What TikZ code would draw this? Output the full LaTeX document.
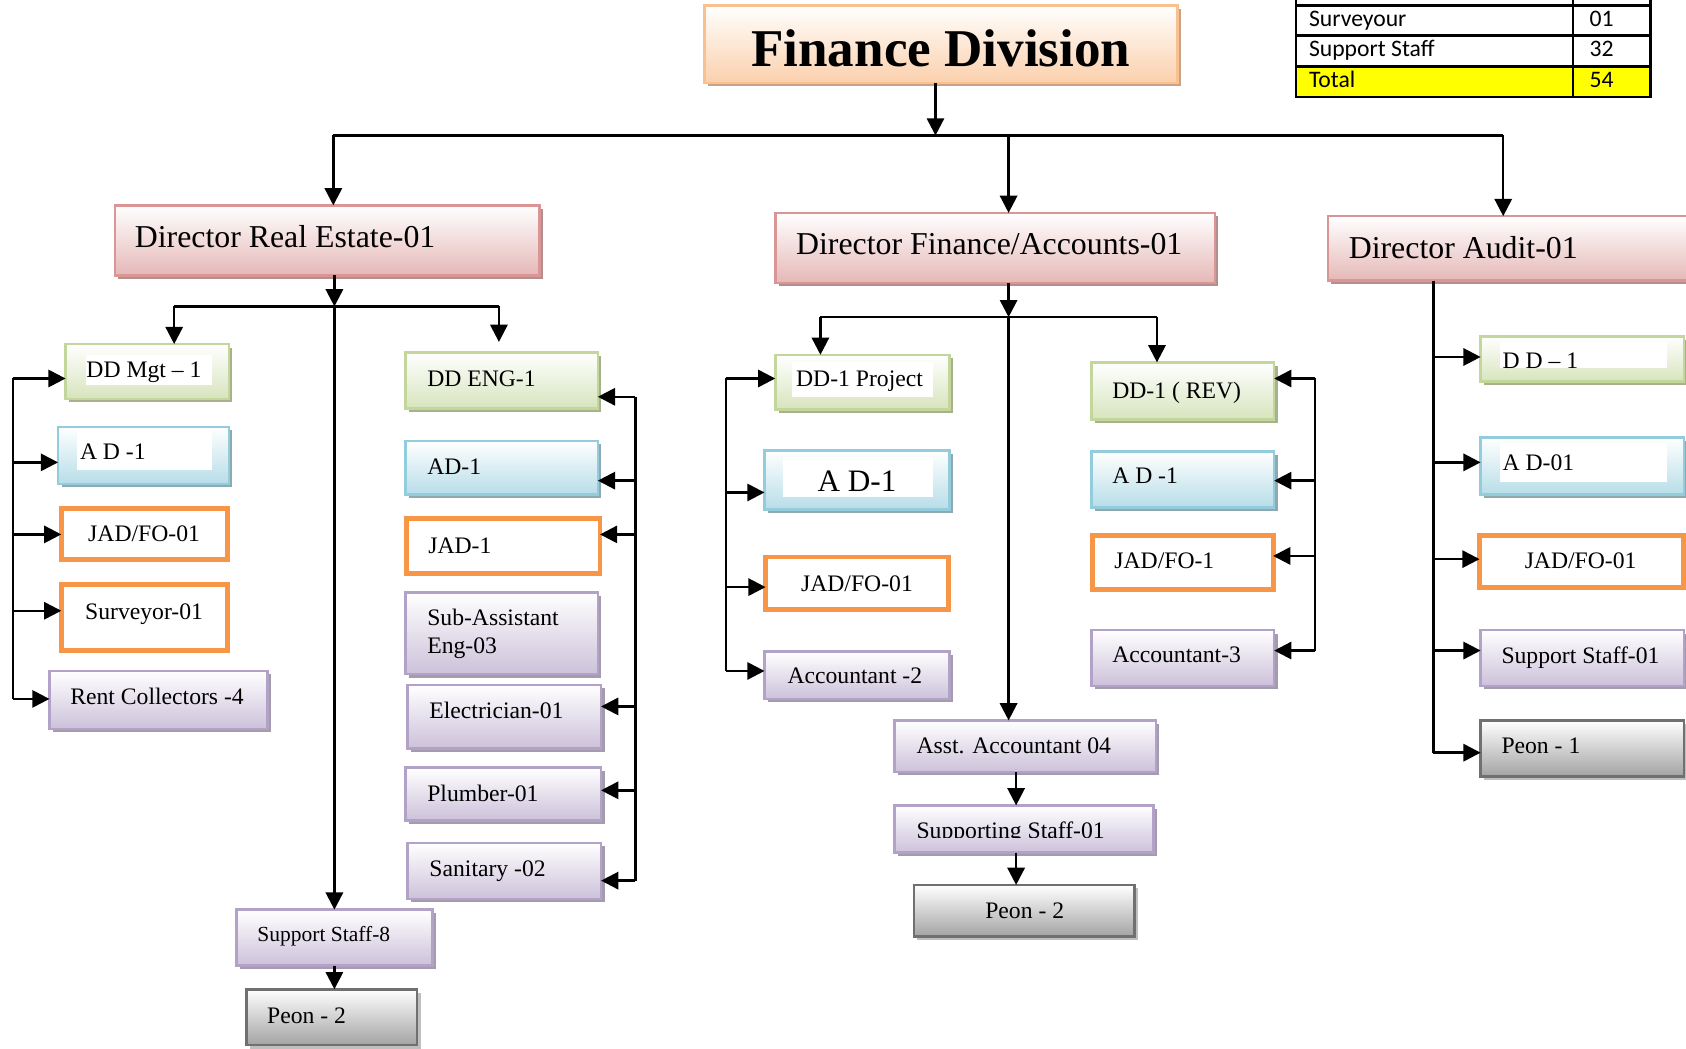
\documentclass[tikz,border=0pt]{standalone}
\usepackage{fontspec}
\setmainfont{Liberation Serif}
\newfontfamily\calibri{Carlito}
\usetikzlibrary{arrows.meta,shadows}

\definecolor{peachB}{HTML}{F9C090}
\definecolor{peachF}{HTML}{FBD0AC}
\definecolor{peachS}{HTML}{C9A287}
\definecolor{pinkB}{HTML}{D99694}
\definecolor{pinkF}{HTML}{E5B8B7}
\definecolor{pinkS}{HTML}{B48E8E}
\definecolor{greenB}{HTML}{C3D69B}
\definecolor{greenF}{HTML}{D7E4BD}
\definecolor{greenS}{HTML}{A7B28C}
\definecolor{blueB}{HTML}{93CDDD}
\definecolor{blueF}{HTML}{B7DDE8}
\definecolor{blueS}{HTML}{8FA9B1}
\definecolor{purpB}{HTML}{B3A2C7}
\definecolor{purpF}{HTML}{CCC1DA}
\definecolor{purpS}{HTML}{A49CAD}
\definecolor{grayB}{HTML}{707070}
\definecolor{grayF}{HTML}{A3A3A3}
\definecolor{grayS}{HTML}{BFBFBF}
\definecolor{orangeB}{HTML}{F79646}
\definecolor{tabYellow}{HTML}{FFFF00}

% box from its top-left (x1,y1) to bottom-right (x2,y2) corner
\newcommand\mkbox[6]{%
  \node[#2, minimum width={(#5-(#3))*0.5pt}, minimum height={(#6-(#4))*0.5pt}] (#1) at (#3,#4) {};}

\begin{document}
\begin{tikzpicture}[x=0.5pt,y=-0.5pt,
  box/.style={rectangle, inner sep=0pt, outer sep=0pt, anchor=north west, line width=1.2pt},
  shadowed/.style={drop shadow={shadow xshift=1.6pt, shadow yshift=-1.6pt, fill=#1, opacity=1}},
  peachbox/.style={box, draw=peachB, top color=white, bottom color=peachF, shadowed=peachS},
  pinkbox/.style={box, draw=pinkB, top color=white, bottom color=pinkF, shadowed=pinkS},
  greenbox/.style={box, draw=greenB, top color=white, bottom color=greenF, shadowed=greenS},
  bluebox/.style={box, draw=blueB, top color=white, bottom color=blueF, shadowed=blueS},
  purpbox/.style={box, draw=purpB, top color=white, bottom color=purpF, shadowed=purpS},
  graybox/.style={box, draw=grayB, top color=white, bottom color=grayF, shadowed=grayS},
  orbox/.style={box, draw=orangeB, line width=2.3pt, fill=white},
  t/.style={inner sep=0pt, anchor=base west, font=\fontsize{11}{13}\selectfont},
  tc/.style={t, anchor=base},
  tsmall/.style={t, font=\fontsize{10}{12}\selectfont},
  tdir/.style={t, font=\fontsize{14.8}{17}\selectfont},
  tbig/.style={tc, font=\fontsize{14.5}{17}\selectfont},
  ttab/.style={inner sep=0pt, anchor=base west, font=\calibri\fontsize{11}{13}\selectfont},
  conn/.style={line width=1.15pt, draw=black},
  arr/.style={conn, -{Triangle[length=8pt,width=8pt]}},
]
\useasboundingbox (0,0) rectangle (1568,975);
\clip (0,0) rectangle (1568,975);
\fill[white] (0,0) rectangle (1568,975);

% ---------- head ----------
\mkbox{fd}{peachbox}{655}{5}{1095}{77}
\node[tc, font=\fontsize{24.7}{30}\selectfont\bfseries] (t-fd) at (875,62) {Finance Division};

% ---------- staff table ----------
\fill[tabYellow] (1205,62) rectangle (1535,90);
\draw[line width=1.1pt] (1205,0) -- (1205,90) -- (1535,90) -- (1535,0);
\draw[line width=1.1pt] (1463,0) -- (1463,90);
\draw[line width=1.1pt] (1205,5) -- (1535,5);
\draw[line width=1.1pt] (1205,33) -- (1535,33);
\draw[line width=1.1pt] (1205,62) -- (1535,62);
\node[ttab] (tb1a) at (1217,25) {Surveyour};
\node[ttab] (tb1b) at (1478,25) {01};
\node[ttab] (tb2a) at (1217,53) {Support Staff};
\node[ttab] (tb2b) at (1478,53) {32};
\node[ttab] (tb3a) at (1217,81) {Total};
\node[ttab] (tb3b) at (1478,81) {54};

% ---------- directors ----------
\mkbox{dre}{pinkbox}{107}{191}{502}{256}
\node[tdir] (t-dre) at (125,230) {Director Real Estate-01};
\mkbox{dfa}{pinkbox}{721}{198}{1130}{263}
\node[tdir] (t-dfa) at (740,237) {Director Finance/Accounts-01};
\mkbox{dau}{pinkbox}{1235}{201}{1590}{261}
\node[tdir] (t-dau) at (1254,240) {Director Audit-01};

% ---------- real estate ----------
\mkbox{mgt}{greenbox}{61}{320}{213}{371}
\fill[white] (80,330) rectangle (197,358);
\node[t] (t-mgt) at (80,351) {DD Mgt – 1};
\mkbox{adL}{bluebox}{54}{397}{213}{450}
\fill[white] (72,400) rectangle (197,437);
\node[t] (t-adL) at (74,427) {A D -1};
\mkbox{jadL}{orbox}{57}{473}{212}{520}
\node[tc] (t-jadL) at (134,504) {JAD/FO-01};
\mkbox{surv}{orbox}{57}{544}{212}{605}
\node[tc] (t-surv) at (134,576) {Surveyor-01};
\mkbox{rent}{purpbox}{46}{624}{249}{678}
\node[t] (t-rent) at (65,655) {Rent Collectors -4};

\mkbox{eng}{greenbox}{377}{328}{556}{380}
\node[t] (t-eng) at (397,359) {DD ENG-1};
\mkbox{adE}{bluebox}{377}{410}{556}{460}
\node[t] (t-adE) at (397,441) {AD-1};
\mkbox{jadE}{orbox}{378}{482}{558}{533}
\node[t] (t-jadE) at (398,515) {JAD-1};
\mkbox{sub}{purpbox}{377}{551}{556}{627}
\node[t] (t-sub1) at (397,582) {Sub-Assistant};
\node[t] (t-sub2) at (397,608) {Eng-03};
\mkbox{elec}{purpbox}{379}{637}{559}{696}
\node[t] (t-elec) at (399,668) {Electrician-01};
\mkbox{plum}{purpbox}{377}{714}{559}{763}
\node[t] (t-plum) at (397,745) {Plumber-01};
\mkbox{san}{purpbox}{379}{784}{559}{836}
\node[t] (t-san) at (399,815) {Sanitary -02};

\mkbox{ss8}{purpbox}{220}{846}{402}{898}
\node[tsmall] (t-ss8) at (239,876) {Support Staff-8};
\mkbox{peonA}{graybox}{229}{920}{388}{972}
\node[t] (t-peonA) at (248,952) {Peon - 2};

% ---------- finance / accounts ----------
\mkbox{proj}{greenbox}{721}{330}{883}{381}
\fill[white] (737,337) rectangle (868,369);
\node[t] (t-proj) at (740,359) {DD-1 Project};
\mkbox{adF}{bluebox}{711}{419}{883}{474}
\fill[white] (728,425) rectangle (868,462);
\node[tbig] (t-adF) at (797,457) {A D-1};
\mkbox{jadF}{orbox}{712}{518}{882}{567}
\node[tc] (t-jadF) at (797,550) {JAD/FO-01};
\mkbox{acc2}{purpbox}{711}{606}{883}{650}
\node[t] (t-acc2) at (732,636) {Accountant -2};

\mkbox{rev}{greenbox}{1015}{337}{1185}{390}
\node[t] (t-rev) at (1034,371) {DD-1 ( REV)};
\mkbox{adR}{bluebox}{1015}{420}{1185}{472}
\node[t] (t-adR) at (1034,450) {A D -1};
\mkbox{jadR}{orbox}{1016}{498}{1184}{548}
\node[t] (t-jadR) at (1036,529) {JAD/FO-1};
\mkbox{acc3}{purpbox}{1015}{586}{1185}{638}
\node[t] (t-acc3) at (1034,616) {Accountant-3};

\mkbox{asst}{purpbox}{832}{670}{1075}{718}
\node[t] (t-asst) at (852,701) {Asst. Accountant 04};
\mkbox{supp}{purpbox}{832}{749}{1073}{793}
\begin{scope}
  \clip (832,749) rectangle (1073,779);
  \node[t] (t-supp) at (852,780) {Supporting Staff-01};
\end{scope}
\mkbox{peonB}{graybox}{850}{823}{1055}{871}
\node[tc] (t-peonB) at (953,854) {Peon - 2};

% ---------- audit ----------
\mkbox{dd1}{greenbox}{1377}{313}{1566}{355}
\fill[white] (1395,318) rectangle (1550,342);
\node[t] (t-dd1) at (1397,343) {D D – 1};
\mkbox{adA}{bluebox}{1377}{407}{1566}{460}
\fill[white] (1395,412) rectangle (1550,448);
\node[t] (t-adA) at (1397,438) {A D-01};
\mkbox{jadA}{orbox}{1376}{498}{1566}{546}
\node[tc] (t-jadA) at (1470,529) {JAD/FO-01};
\mkbox{ssA}{purpbox}{1377}{586}{1566}{638}
\node[t] (t-ssA) at (1396,617) {Support Staff-01};
\mkbox{peon1}{graybox}{1377}{670}{1566}{722}
\node[t] (t-peon1) at (1396,701) {Peon - 1};

% ---------- connectors: top level ----------
\coordinate (hL) at (310,126);
\coordinate (hM) at (870,126);
\coordinate (hF) at (938,126);
\coordinate (hR) at (1398,126);
\draw[arr] (hM |- fd.south) -- (hM);
\draw[conn] (hL) -- (hR);
\draw[arr] (hL) -- (hL |- dre.north);
\draw[arr] (hF) -- (hF |- dfa.north);
\draw[arr] (hR) -- (hR |- dau.north);

% ---------- connectors: real estate ----------
\coordinate (reJ) at (311,285);
\coordinate (reL) at (162,285);
\coordinate (reR) at (464,285);
\draw[arr] (reJ |- dre.south) -- (reJ);
\draw[conn] (reL) -- (reR);
\draw[arr] (reJ) -- (reJ |- ss8.north);
\draw[arr] (reL) -- (reL |- mgt.north);
\draw[arr, shorten >=5pt] (reR) -- (reR |- eng.north);
\draw[arr] (ss8.south) -- (ss8.south |- peonA.north);

\coordinate (lb1) at (12,352);
\coordinate (lb2) at (12,430);
\coordinate (lb3) at (12,497);
\coordinate (lb4) at (12,568);
\coordinate (lb5) at (12,650);
\draw[conn] (lb1) -- (lb5);
\draw[arr] (lb1) -- (lb1 -| mgt.west);
\draw[arr] (lb2) -- (lb2 -| adL.west);
\draw[arr] (lb3) -- (lb3 -| jadL.west);
\draw[arr] (lb4) -- (lb4 -| surv.west);
\draw[arr] (lb5) -- (lb5 -| rent.west);

\coordinate (rb1) at (591,369);
\coordinate (rb2) at (591,447);
\coordinate (rb3) at (591,497);
\coordinate (rb4) at (591,657);
\coordinate (rb5) at (591,735);
\coordinate (rb6) at (591,819);
\draw[conn] (rb1) -- (rb6);
\draw[arr] (rb1) -- (rb1 -| eng.east);
\draw[arr] (rb2) -- (rb2 -| adE.east);
\draw[arr] (rb3) -- (rb3 -| jadE.east);
\draw[arr] (rb4) -- (rb4 -| elec.east);
\draw[arr] (rb5) -- (rb5 -| plum.east);
\draw[arr] (rb6) -- (rb6 -| san.east);

% ---------- connectors: finance / accounts ----------
\coordinate (faJ) at (938,295);
\coordinate (faL) at (763,295);
\coordinate (faR) at (1076,295);
\draw[arr] (faJ |- dfa.south) -- (faJ);
\draw[conn] (faL) -- (faR);
\draw[arr] (faL) -- (faL |- proj.north);
\draw[arr] (faR) -- (faR |- rev.north);
\draw[arr] (faJ) -- (faJ |- asst.north);

\coordinate (fl1) at (675,352);
\coordinate (fl2) at (675,458);
\coordinate (fl3) at (675,546);
\coordinate (fl4) at (675,624);
\draw[conn] (fl1) -- (fl4);
\draw[arr] (fl1) -- (fl1 -| proj.west);
\draw[arr] (fl2) -- (fl2 -| adF.west);
\draw[arr] (fl3) -- (fl3 -| jadF.west);
\draw[arr] (fl4) -- (fl4 -| acc2.west);

\coordinate (fr1) at (1223,352);
\coordinate (fr2) at (1223,447);
\coordinate (fr3) at (1223,517);
\coordinate (fr4) at (1223,605);
\draw[conn] (fr1) -- (fr4);
\draw[arr] (fr1) -- (fr1 -| rev.east);
\draw[arr] (fr2) -- (fr2 -| adR.east);
\draw[arr] (fr3) -- (fr3 -| jadR.east);
\draw[arr] (fr4) -- (fr4 -| acc3.east);

\coordinate (fc) at (945,0);
\draw[arr] (asst.south -| fc) -- (supp.north -| fc);
\draw[arr] (supp.south -| fc) -- (peonB.north -| fc);

% ---------- connectors: audit ----------
\coordinate (au1) at (1333,332);
\coordinate (au2) at (1333,430);
\coordinate (au3) at (1333,520);
\coordinate (au4) at (1333,605);
\coordinate (au5) at (1333,700);
\draw[conn] (au1 |- dau.south) -- (au5);
\draw[arr] (au1) -- (au1 -| dd1.west);
\draw[arr] (au2) -- (au2 -| adA.west);
\draw[arr] (au3) -- (au3 -| jadA.west);
\draw[arr] (au4) -- (au4 -| ssA.west);
\draw[arr] (au5) -- (au5 -| peon1.west);
\end{tikzpicture}
\end{document}
